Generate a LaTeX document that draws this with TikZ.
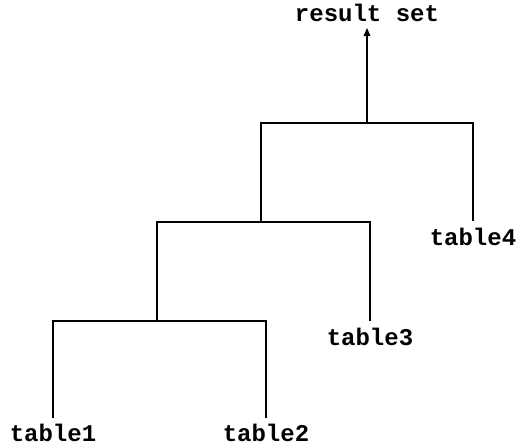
\documentclass[tikz,border=0pt]{standalone}
\usepackage{fontspec}
\setmonofont{Liberation Mono}
\usetikzlibrary{arrows.meta}

\begin{document}
\begin{tikzpicture}[x=0.75pt,y=-0.75pt,line width=0.9pt,
  tbl/.style={font=\ttfamily\bfseries\fontsize{18}{20}\selectfont,inner xsep=0pt,inner ysep=2pt,anchor=north}]
\useasboundingbox (0,0) rectangle (522,446);
\node[tbl] (t1) at (53,421) {table1};
\node[tbl] (t2) at (266,421) {table2};
\node[tbl] (t3) at (370,325) {table3};
\node[tbl] (t4) at (473,225) {table4};
\node[tbl,anchor=south,inner ysep=4.5pt] (res) at (367,28) {result set};
\coordinate (j1) at (157,321);
\coordinate (j2) at (261,222);
\coordinate (j3) at (367,123);
\draw[shorten <=2pt,shorten >=2pt] (t1.north) |- (j1) -| (t2.north);
\draw[shorten >=3pt] (j1) |- (j2) -| (t3.north);
\draw[shorten >=3pt] (j2) |- (j3) -| (t4.north);
\draw[-{Triangle[length=6pt,width=5pt]}] (j3) -- (res);
\end{tikzpicture}
\end{document}
